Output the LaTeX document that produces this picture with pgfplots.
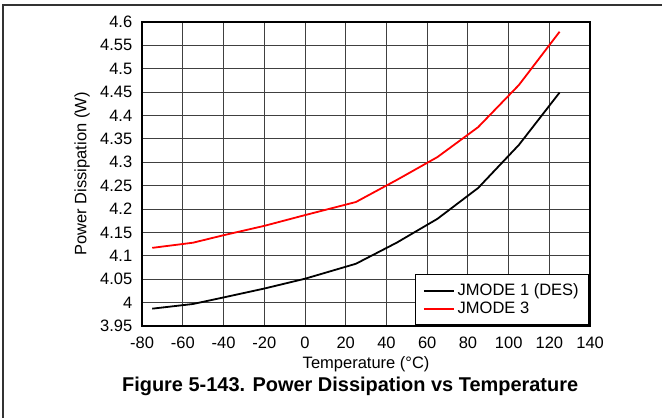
\documentclass[border=0pt]{standalone}
\usepackage{fontspec}
\setmainfont{Liberation Sans}
\usepackage{pgfplots}
\pgfplotsset{compat=1.18}

\begin{document}
\begin{tikzpicture}[font=\fontsize{11}{13}\selectfont]
\begin{axis}[
    name=main,
    at={(0,0)}, anchor=south west,
    scale only axis,
    width=298.7pt, height=202.7pt,
    xmin=-80, xmax=140, ymin=3.95, ymax=4.6,
    xtick distance=20, ytick distance=0.05,
    major tick length=0pt,
    grid=major,
    major grid style={black!75, line width=0.6pt},
    axis line style={line width=1.4pt},
    tick label style={font=\fontsize{11}{13}\selectfont},
    label style={font=\fontsize{11}{13}\selectfont},
    /pgf/number format/assume math mode=true,
    yticklabel style={xshift=-3pt, /pgf/number format/.cd, fixed, precision=2},
    xticklabel style={yshift=-4pt, /pgf/number format/.cd, fixed},
    xlabel={Temperature (°C)},
    ylabel={Power Dissipation (W)},
    xlabel style={yshift=1.5pt},
    legend style={at={(1,0)}, anchor=south east, draw=black, line width=1.2pt,
        font=\fontsize{11}{13}\selectfont, row sep=-1pt, inner xsep=5pt, inner ysep=4pt},
    legend cell align=left,
    legend image code/.code={\draw[#1, line width=1.2pt] (0pt,0pt) -- (20pt,0pt);},
]
\addplot[black, line width=1.2pt] coordinates {
    (-75,3.987) (-55,3.997) (-40,4.011) (-20,4.030) (0,4.051) (25,4.083)
    (45,4.128) (65,4.179) (85,4.245) (105,4.337) (125,4.449)
};
\addlegendentry{JMODE 1 (DES)}
\addplot[red, line width=1.2pt] coordinates {
    (-75,4.117) (-55,4.128) (-40,4.144) (-20,4.164) (0,4.187) (25,4.215)
    (45,4.262) (65,4.311) (85,4.375) (105,4.465) (125,4.579)
};
\addlegendentry{JMODE 3}
\end{axis}
\path[use as bounding box] (-94.7pt,-61.4pt) rectangle (346.6pt,217.3pt);
\draw[black!80, line width=0.9pt] (-92.7pt,-61.4pt) -- (-92.7pt,214pt) -- (346.6pt,214pt);
\node[anchor=base, font=\bfseries\fontsize{13.3}{15}\selectfont] at (138.7pt,-44pt)
    {Figure 5-143. Power Dissipation vs Temperature};
\end{tikzpicture}
\end{document}
